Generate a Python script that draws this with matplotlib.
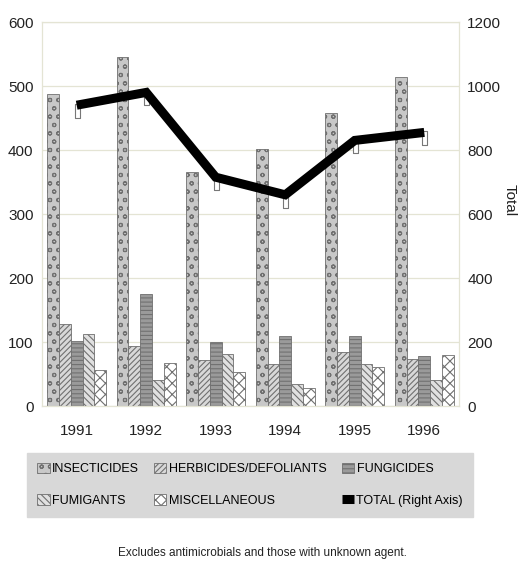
import numpy as np
import matplotlib.pyplot as plt
from matplotlib.path import Path

plt.rcParams['font.family'] = ['Liberation Sans Narrow', 'Liberation Sans', 'DejaVu Sans']
plt.rcParams['hatch.linewidth'] = 0.8

years = ['1991', '1992', '1993', '1994', '1995', '1996']
insecticides = [487, 545, 366, 401, 458, 514]
herbicides = [128, 94, 72, 66, 84, 73]
fungicides = [101, 175, 100, 109, 109, 78]
fumigants = [112, 40, 81, 34, 66, 41]
miscellaneous = [56, 68, 53, 28, 61, 80]
total = [940, 980, 715, 660, 830, 855]

series = [
    ('INSECTICIDES', insecticides, '#c8c8c8', 'oo'),
    ('HERBICIDES/DEFOLIANTS', herbicides, '#d8d8d8', '//////'),
    ('FUNGICIDES', fungicides, '#9a9a9a', '----'),
    ('FUMIGANTS', fumigants, '#e0e0e0', '\\\\\\\\\\'),
    ('MISCELLANEOUS', miscellaneous, '#ffffff', 'xxx'),
]

fig = plt.figure(figsize=(5.24, 5.73), dpi=100)
ax = fig.add_axes([0.080, 0.2914, 0.796, 0.6702])
ax2 = ax.twinx()

x = np.arange(len(years))
w = 0.17
handles = {}
for i, (name, vals, fc, hatch) in enumerate(series):
    bars = ax.bar(x + (i - 2) * w, vals, w, color=fc, edgecolor='#707070',
                  hatch=hatch, linewidth=0.6, label=name, zorder=2)
    handles[name] = bars

# rectangle marker hanging just below each point of the total line
rect = Path([(-0.2, 0.1), (0.2, 0.1), (0.2, -1.0), (-0.2, -1.0), (-0.2, 0.1)],
            [Path.MOVETO, Path.LINETO, Path.LINETO, Path.LINETO, Path.CLOSEPOLY])
ax2.plot(x, total, linestyle='none', marker=rect, markersize=18,
         markerfacecolor='white', markeredgecolor='#777777', markeredgewidth=0.8, zorder=3)
line, = ax2.plot(x, total, color='black', linewidth=6.5, solid_joinstyle='miter',
                 solid_capstyle='butt', label='TOTAL (Right Axis)', zorder=4)
ax2.set_zorder(ax.get_zorder() + 1)

ax.set_xlim(-0.5, 5.5)
ax.set_ylim(0, 600)
ax.set_yticks(range(0, 601, 100))
ax2.set_ylim(0, 1200)
ax2.set_yticks(range(0, 1201, 200))
ax.set_xticks(x)
ax.set_xticklabels(years)
ax.yaxis.grid(True, color='#e4e4d4', linewidth=0.9, zorder=0)
ax.set_axisbelow(True)

for a in (ax, ax2):
    for s in a.spines.values():
        s.set_color('#e4e4d4')
    a.tick_params(length=0, labelsize=11, colors='#222222')
ax.tick_params(axis='y', pad=6)
ax.tick_params(axis='x', pad=13)
ax2.tick_params(axis='y', pad=6)
fig.text(510 / 524, 1 - 200 / 573, 'Total', rotation=-90, fontsize=11,
         ha='center', va='center', color='#222222')

order = ['INSECTICIDES', 'FUMIGANTS', 'HERBICIDES/DEFOLIANTS', 'MISCELLANEOUS', 'FUNGICIDES']
leg_handles = [handles[n] for n in order] + [line]
leg_labels = order + ['TOTAL (Right Axis)']
leg = fig.legend(leg_handles, leg_labels, ncol=3, loc='upper left',
                 bbox_to_anchor=(27 / 524, 1 - 518 / 573, 446 / 524, 65 / 573),
                 mode='expand', frameon=True, fancybox=False, fontsize=9,
                 handlelength=1.0, handleheight=0.9, handletextpad=0.2,
                 columnspacing=0.5, borderpad=0.8, labelspacing=1.5,
                 borderaxespad=0)
leg.get_frame().set_facecolor('#d8d8d8')
leg.get_frame().set_edgecolor('#d8d8d8')
leg.get_frame().set_alpha(1)

fig.text(0.5, 1 - 553 / 573, 'Excludes antimicrobials and those with unknown agent.',
         ha='center', va='center', fontsize=8.5, color='#222222')

fig.savefig('out.png', dpi=100)
